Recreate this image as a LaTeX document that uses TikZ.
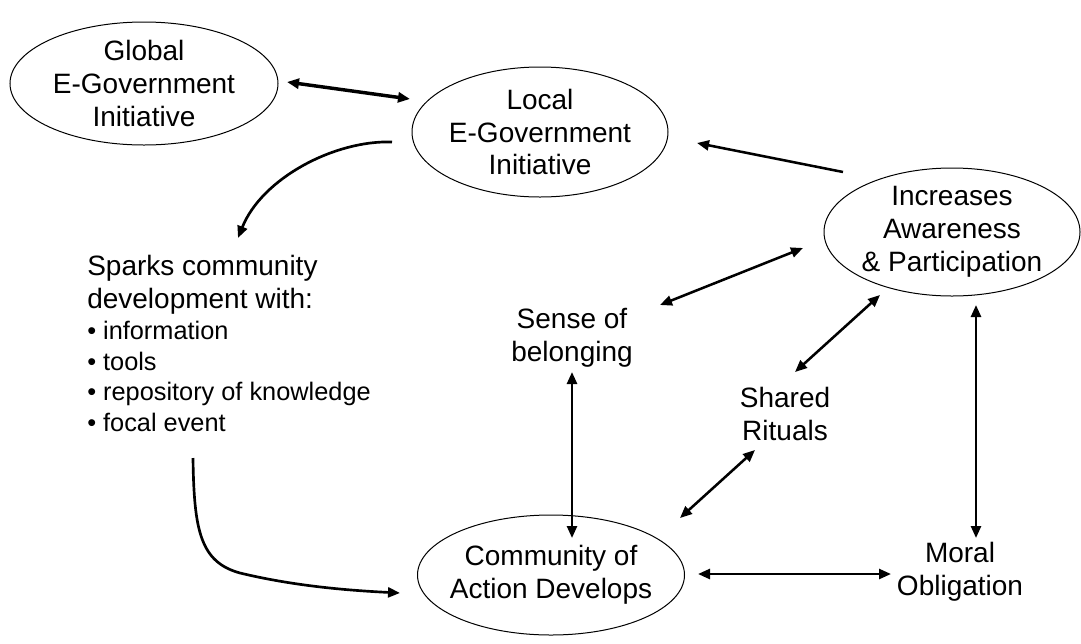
\documentclass[tikz,border=0pt]{standalone}
\usepackage{fontspec}
\setmainfont{Liberation Sans}
\usetikzlibrary{arrows.meta,calc,shapes.geometric}
\begin{document}
\begin{tikzpicture}[x=0.75pt,y=-0.75pt,
  bubble/.style={draw,ellipse,line width=0.75pt,inner sep=0pt},
  tag/.style={align=center,inner sep=0pt,font=\fontsize{21}{24.6}\selectfont},
  items/.style={align=left,inner sep=0pt,font=\fontsize{19}{23}\selectfont},
  oneway/.style={line width=1.9pt,-{Triangle[length=9pt,width=7.5pt]}},
  twoway/.style={line width=1.9pt,{Triangle[length=9pt,width=7.5pt]}-{Triangle[length=9pt,width=7.5pt]}},
  curvy/.style={line width=2pt,-{Triangle[length=9pt,width=7.5pt]}},
]
\useasboundingbox (0,0) rectangle (1081,643);

% ellipses, sized independently of their text
\node[bubble,minimum width=201pt,minimum height=92.25pt,
  label={[tag]center:Global\\E-Government\\Initiative}] (glob) at (144,83.5) {};
\node[bubble,minimum width=192pt,minimum height=97.5pt,
  label={[tag]center:Local\\E-Government\\Initiative}] (loc) at (540,132) {};
\node[bubble,minimum width=192pt,minimum height=96pt,
  label={[tag]center:Increases\\Awareness\\\& Participation}] (inc) at (952,232) {};
\node[bubble,minimum width=200.25pt,minimum height=90pt,
  label={[tag]center:Community of\\Action Develops}] (com) at (551,575) {};

% free-standing labels
\node[tag,align=left,anchor=north west] (sparks) at (87,255) {Sparks community\\development with:};
\node[items,anchor=north west] (list) at (87,321) {• information\\• tools\\• repository of knowledge\\• focal event};
\node[tag] (sense) at (572,338) {Sense of\\belonging};
\node[tag] (shared) at (785,414) {Shared\\Rituals};
\node[tag] (moral) at (960,572) {Moral\\Obligation};

% connectors
\draw[twoway,line width=2.6pt] ($(glob)+(143,-1.5)$) -- ($(loc)+(-130,-33)$);
\draw[oneway] ($(inc)+(-109,-60)$) -- ($(loc)+(157,11)$);
\draw[curvy] ($(loc)+(-148,10)$) .. controls ($(loc)+(-205,8)$) and ($(sparks.north west)+(175,-77)$) .. ($(sparks.north west)+(151,-17)$);
\draw[curvy] ($(list.north west)+(106,137)$) .. controls ($(list.north west)+(107,209)$) and ($(list.north west)+(113,241)$)
  .. ($(list.north west)+(153,252)$) .. controls ($(list.north west)+(203,264)$) and ($(list.north west)+(253,269)$) .. ($(com)+(-151,18)$);
\draw[twoway] ($(sense)+(88,-33)$) -- ($(inc)+(-149,16)$);
\draw[twoway] ($(sense)+(0,34)$) -- ($(com)+(21,-37)$);
\draw[twoway] ($(shared)+(10,-42)$) -- ($(inc)+(-72,63)$);
\draw[twoway] ($(shared)+(-30,36)$) -- ($(com)+(129,-57)$);
\draw[twoway] ($(inc)+(24,73)$) -- ($(moral)+(16,-34)$);
\draw[twoway] ($(com)+(147,-1)$) -- ($(moral)+(-69,2)$);
\end{tikzpicture}
\end{document}
